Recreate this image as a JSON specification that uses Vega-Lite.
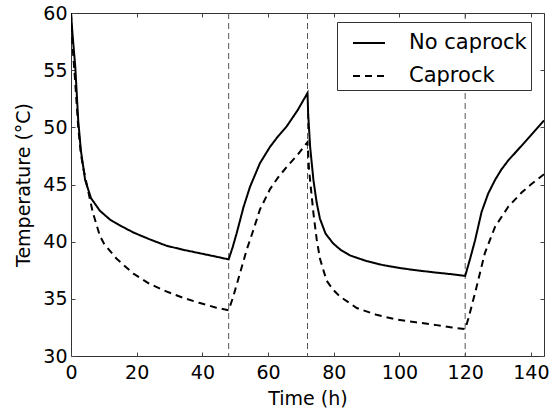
{
  "$schema": "https://vega.github.io/schema/vega-lite/v6.json",
  "width": 473,
  "height": 343,
  "autosize": "none",
  "padding": {"left": 71, "top": 13, "right": 5, "bottom": 56},
  "config": {
    "font": "DejaVu Sans",
    "view": {"stroke": "#333333", "strokeWidth": 1},
    "axis": {
      "domain": false,
      "grid": false,
      "tickColor": "#444444",
      "tickSize": -4,
      "labelFlush": false,
      "labelColor": "black",
      "labelFont": "DejaVu Sans",
      "labelFontSize": 19,
      "titleFont": "DejaVu Sans",
      "titleFontSize": 19,
      "titleFontWeight": "normal",
      "titleColor": "black"
    }
  },
  "datasets": {
    "curves": [
      {"t": 0, "T": 60, "s": "No caprock"},
      {"t": 0.5, "T": 58, "s": "No caprock"},
      {"t": 1.3, "T": 55.3, "s": "No caprock"},
      {"t": 2.2, "T": 50.6, "s": "No caprock"},
      {"t": 3.0, "T": 48.0, "s": "No caprock"},
      {"t": 4.3, "T": 45.4, "s": "No caprock"},
      {"t": 6.1, "T": 43.8, "s": "No caprock"},
      {"t": 8.8, "T": 42.7, "s": "No caprock"},
      {"t": 12, "T": 41.9, "s": "No caprock"},
      {"t": 15.7, "T": 41.3, "s": "No caprock"},
      {"t": 19, "T": 40.8, "s": "No caprock"},
      {"t": 24, "T": 40.2, "s": "No caprock"},
      {"t": 29, "T": 39.65, "s": "No caprock"},
      {"t": 34, "T": 39.3, "s": "No caprock"},
      {"t": 39, "T": 39.0, "s": "No caprock"},
      {"t": 44, "T": 38.7, "s": "No caprock"},
      {"t": 48, "T": 38.45, "s": "No caprock"},
      {"t": 49.2, "T": 39.5, "s": "No caprock"},
      {"t": 50.4, "T": 40.7, "s": "No caprock"},
      {"t": 51.5, "T": 41.9, "s": "No caprock"},
      {"t": 52.5, "T": 43.0, "s": "No caprock"},
      {"t": 54.5, "T": 44.8, "s": "No caprock"},
      {"t": 57.5, "T": 46.85, "s": "No caprock"},
      {"t": 60.6, "T": 48.3, "s": "No caprock"},
      {"t": 63, "T": 49.2, "s": "No caprock"},
      {"t": 65.7, "T": 50.1, "s": "No caprock"},
      {"t": 69, "T": 51.5, "s": "No caprock"},
      {"t": 72, "T": 53.0, "s": "No caprock"},
      {"t": 72.2, "T": 51.2, "s": "No caprock"},
      {"t": 72.8, "T": 48.3, "s": "No caprock"},
      {"t": 73.8, "T": 45.4, "s": "No caprock"},
      {"t": 74.8, "T": 43.4, "s": "No caprock"},
      {"t": 75.8, "T": 42.0, "s": "No caprock"},
      {"t": 77.5, "T": 40.7, "s": "No caprock"},
      {"t": 79.8, "T": 39.85, "s": "No caprock"},
      {"t": 82, "T": 39.3, "s": "No caprock"},
      {"t": 84.9, "T": 38.8, "s": "No caprock"},
      {"t": 90, "T": 38.3, "s": "No caprock"},
      {"t": 95, "T": 37.95, "s": "No caprock"},
      {"t": 100, "T": 37.7, "s": "No caprock"},
      {"t": 105, "T": 37.5, "s": "No caprock"},
      {"t": 111, "T": 37.3, "s": "No caprock"},
      {"t": 116, "T": 37.15, "s": "No caprock"},
      {"t": 120, "T": 37.0, "s": "No caprock"},
      {"t": 121.5, "T": 38.5, "s": "No caprock"},
      {"t": 123, "T": 40.1, "s": "No caprock"},
      {"t": 125, "T": 42.6, "s": "No caprock"},
      {"t": 127, "T": 44.2, "s": "No caprock"},
      {"t": 129.1, "T": 45.4, "s": "No caprock"},
      {"t": 131, "T": 46.3, "s": "No caprock"},
      {"t": 133.1, "T": 47.1, "s": "No caprock"},
      {"t": 137.2, "T": 48.4, "s": "No caprock"},
      {"t": 140, "T": 49.3, "s": "No caprock"},
      {"t": 144, "T": 50.6, "s": "No caprock"},
      {"t": 0, "T": 60, "s": "Caprock"},
      {"t": 0.5, "T": 57, "s": "Caprock"},
      {"t": 1.2, "T": 54.3, "s": "Caprock"},
      {"t": 2.2, "T": 50.0, "s": "Caprock"},
      {"t": 3.0, "T": 47.7, "s": "Caprock"},
      {"t": 3.7, "T": 46.5, "s": "Caprock"},
      {"t": 4.8, "T": 45.0, "s": "Caprock"},
      {"t": 6.6, "T": 42.6, "s": "Caprock"},
      {"t": 8.8, "T": 40.5, "s": "Caprock"},
      {"t": 10.1, "T": 39.8, "s": "Caprock"},
      {"t": 13.9, "T": 38.5, "s": "Caprock"},
      {"t": 19, "T": 37.2, "s": "Caprock"},
      {"t": 24, "T": 36.3, "s": "Caprock"},
      {"t": 29, "T": 35.65, "s": "Caprock"},
      {"t": 34, "T": 35.1, "s": "Caprock"},
      {"t": 39, "T": 34.65, "s": "Caprock"},
      {"t": 44, "T": 34.25, "s": "Caprock"},
      {"t": 48, "T": 34.0, "s": "Caprock"},
      {"t": 49.4, "T": 35.2, "s": "Caprock"},
      {"t": 51.4, "T": 37.2, "s": "Caprock"},
      {"t": 53.5, "T": 39.3, "s": "Caprock"},
      {"t": 55.5, "T": 41.0, "s": "Caprock"},
      {"t": 57.5, "T": 42.8, "s": "Caprock"},
      {"t": 60.6, "T": 44.6, "s": "Caprock"},
      {"t": 63, "T": 45.6, "s": "Caprock"},
      {"t": 65.7, "T": 46.55, "s": "Caprock"},
      {"t": 69, "T": 47.6, "s": "Caprock"},
      {"t": 72, "T": 48.7, "s": "Caprock"},
      {"t": 72.5, "T": 46.2, "s": "Caprock"},
      {"t": 73.8, "T": 42.5, "s": "Caprock"},
      {"t": 74.8, "T": 40.2, "s": "Caprock"},
      {"t": 75.8, "T": 38.5, "s": "Caprock"},
      {"t": 77.8, "T": 36.6, "s": "Caprock"},
      {"t": 79.8, "T": 35.8, "s": "Caprock"},
      {"t": 81.9, "T": 35.2, "s": "Caprock"},
      {"t": 87, "T": 34.2, "s": "Caprock"},
      {"t": 93, "T": 33.6, "s": "Caprock"},
      {"t": 99, "T": 33.2, "s": "Caprock"},
      {"t": 105, "T": 32.95, "s": "Caprock"},
      {"t": 111.3, "T": 32.7, "s": "Caprock"},
      {"t": 116, "T": 32.5, "s": "Caprock"},
      {"t": 120, "T": 32.35, "s": "Caprock"},
      {"t": 121, "T": 33.3, "s": "Caprock"},
      {"t": 123, "T": 35.5, "s": "Caprock"},
      {"t": 126, "T": 39.0, "s": "Caprock"},
      {"t": 129.1, "T": 41.3, "s": "Caprock"},
      {"t": 133.1, "T": 43.05, "s": "Caprock"},
      {"t": 137.2, "T": 44.3, "s": "Caprock"},
      {"t": 140, "T": 45.0, "s": "Caprock"},
      {"t": 144, "T": 45.9, "s": "Caprock"}
    ],
    "events": [{"t": 48}, {"t": 72}, {"t": 120}]
  },
  "resolve": {"axis": {"x": "independent", "y": "independent"}},
  "layer": [
    {
      "data": {"name": "events"},
      "mark": {"type": "rule", "color": "#555555", "strokeWidth": 1, "strokeDash": [6, 4]},
      "encoding": {
        "x": {
          "field": "t", "type": "quantitative",
          "scale": {"domain": [0, 144], "nice": false},
          "axis": {"orient": "top", "labels": false, "title": null, "values": [0, 20, 40, 60, 80, 100, 120, 140]}
        }
      }
    },
    {
      "data": {"name": "curves"},
      "mark": {"type": "line", "color": "black", "strokeWidth": 2, "clip": true},
      "encoding": {
        "x": {
          "field": "t", "type": "quantitative",
          "scale": {"domain": [0, 144], "nice": false},
          "axis": {"orient": "bottom", "title": "Time (h)", "values": [0, 20, 40, 60, 80, 100, 120, 140], "labelPadding": 11, "titlePadding": 7}
        },
        "y": {
          "field": "T", "type": "quantitative",
          "scale": {"domain": [30, 60], "nice": false, "zero": false},
          "axis": {"orient": "left", "title": "Temperature (°C)", "values": [30, 35, 40, 45, 50, 55, 60], "labelPadding": 8, "titlePadding": 9}
        },
        "strokeDash": {
          "field": "s", "type": "nominal",
          "scale": {"domain": ["No caprock", "Caprock"], "range": [[1, 0], [7, 5]]},
          "legend": {
            "title": null,
            "orient": "none",
            "legendX": 266,
            "legendY": 9,
            "strokeColor": "#333333",
            "fillColor": "white",
            "padding": 4,
            "symbolType": "stroke",
            "symbolSize": 1024,
            "symbolOffset": 11,
            "symbolStrokeWidth": 2,
            "symbolStrokeColor": "black",
            "labelFontSize": 21,
            "labelFont": "DejaVu Sans",
            "labelColor": "black",
            "labelOffset": 23,
            "rowPadding": 6
          }
        },
        "detail": {"field": "s"}
      }
    },
    {
      "data": {"name": "curves"},
      "mark": {"type": "line", "strokeOpacity": 0, "clip": true},
      "encoding": {
        "x": {"field": "t", "type": "quantitative", "scale": {"domain": [0, 144], "nice": false}, "axis": null},
        "y": {
          "field": "T", "type": "quantitative",
          "scale": {"domain": [30, 60], "nice": false, "zero": false},
          "axis": {"orient": "right", "labels": false, "title": null, "values": [30, 35, 40, 45, 50, 55, 60]}
        },
        "detail": {"field": "s"}
      }
    }
  ]
}
